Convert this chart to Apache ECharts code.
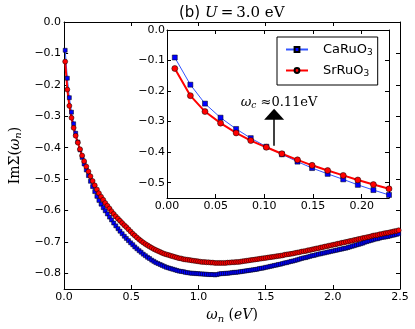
<!DOCTYPE html>
<html>
<head>
<meta charset="utf-8">
<script src="https://cdn.jsdelivr.net/npm/echarts@6/dist/echarts.min.js"></script>
<style>
html, body { margin: 0; padding: 0; background: #fff; }
#main { width: 415px; height: 329px; }
</style>
</head>
<body>
<div id="main"></div>
<script>
// Matsubara frequencies (eV), beta ~ 400 eV^-1
const omegaN = [
  0.008, 0.024, 0.039, 0.055, 0.071, 0.086, 0.102, 0.118, 0.134, 0.149,
  0.165, 0.181, 0.196, 0.212, 0.228, 0.244, 0.259, 0.275, 0.291, 0.306,
  0.322, 0.338, 0.353, 0.369, 0.385, 0.401, 0.416, 0.432, 0.448, 0.463,
  0.479, 0.495, 0.511, 0.526, 0.542, 0.558, 0.573, 0.589, 0.605, 0.621,
  0.636, 0.652, 0.668, 0.683, 0.699, 0.715, 0.730, 0.746, 0.762, 0.778,
  0.793, 0.809, 0.825, 0.840, 0.856, 0.872, 0.888, 0.903, 0.919, 0.935,
  0.950, 0.966, 0.982, 0.997, 1.013, 1.029, 1.045, 1.060, 1.076, 1.092,
  1.107, 1.123, 1.139, 1.155, 1.170, 1.186, 1.202, 1.217, 1.233, 1.249,
  1.265, 1.280, 1.296, 1.312, 1.327, 1.343, 1.359, 1.374, 1.390, 1.406,
  1.422, 1.437, 1.453, 1.469, 1.484, 1.500, 1.516, 1.532, 1.547, 1.563,
  1.579, 1.594, 1.610, 1.626, 1.642, 1.657, 1.673, 1.689, 1.704, 1.720,
  1.736, 1.751, 1.767, 1.783, 1.799, 1.814, 1.830, 1.846, 1.861, 1.877,
  1.893, 1.909, 1.924, 1.940, 1.956, 1.971, 1.987, 2.003, 2.019, 2.034,
  2.050, 2.066, 2.081, 2.097, 2.113, 2.128, 2.144, 2.160, 2.176, 2.191,
  2.207, 2.223, 2.238, 2.254, 2.270, 2.286, 2.301, 2.317, 2.333, 2.348,
  2.364, 2.380, 2.395, 2.411, 2.427, 2.443, 2.458, 2.474, 2.490
]

// Im Sigma(i w_n)
const caRuO3 = [
  -0.090, -0.179, -0.241, -0.287, -0.324, -0.354, -0.382, -0.407, -0.431, -0.452,
  -0.471, -0.489, -0.507, -0.524, -0.540, -0.555, -0.568, -0.580, -0.591, -0.601,
  -0.611, -0.621, -0.630, -0.640, -0.649, -0.658, -0.666, -0.674, -0.682, -0.689,
  -0.696, -0.703, -0.709, -0.716, -0.722, -0.728, -0.733, -0.739, -0.744, -0.749,
  -0.753, -0.758, -0.762, -0.766, -0.769, -0.772, -0.775, -0.778, -0.781, -0.783,
  -0.785, -0.787, -0.789, -0.791, -0.793, -0.794, -0.795, -0.797, -0.798, -0.799,
  -0.800, -0.800, -0.801, -0.801, -0.802, -0.802, -0.803, -0.803, -0.804, -0.804,
  -0.804, -0.805, -0.804, -0.802, -0.801, -0.801, -0.800, -0.800, -0.799, -0.798,
  -0.797, -0.797, -0.796, -0.795, -0.794, -0.793, -0.792, -0.791, -0.790, -0.789,
  -0.788, -0.787, -0.785, -0.784, -0.783, -0.781, -0.780, -0.778, -0.777, -0.775,
  -0.774, -0.772, -0.771, -0.769, -0.767, -0.766, -0.764, -0.762, -0.761, -0.759,
  -0.757, -0.755, -0.753, -0.751, -0.750, -0.748, -0.746, -0.744, -0.743, -0.741,
  -0.739, -0.738, -0.736, -0.735, -0.733, -0.732, -0.730, -0.729, -0.727, -0.726,
  -0.724, -0.723, -0.721, -0.720, -0.718, -0.716, -0.714, -0.712, -0.710, -0.708,
  -0.706, -0.704, -0.701, -0.699, -0.697, -0.695, -0.693, -0.691, -0.690, -0.688,
  -0.686, -0.685, -0.684, -0.683, -0.681, -0.679, -0.678, -0.676, -0.674
]
const srRuO3 = [
  -0.126, -0.215, -0.267, -0.305, -0.337, -0.362, -0.384, -0.405, -0.425, -0.443,
  -0.460, -0.476, -0.491, -0.506, -0.520, -0.533, -0.545, -0.556, -0.566, -0.576,
  -0.585, -0.594, -0.603, -0.611, -0.619, -0.626, -0.633, -0.640, -0.647, -0.653,
  -0.660, -0.667, -0.674, -0.680, -0.686, -0.692, -0.697, -0.702, -0.707, -0.711,
  -0.715, -0.719, -0.723, -0.726, -0.729, -0.732, -0.735, -0.738, -0.740, -0.742,
  -0.744, -0.746, -0.748, -0.750, -0.752, -0.753, -0.755, -0.756, -0.757, -0.758,
  -0.759, -0.760, -0.761, -0.762, -0.763, -0.764, -0.764, -0.765, -0.765, -0.766,
  -0.766, -0.767, -0.767, -0.767, -0.767, -0.767, -0.767, -0.766, -0.766, -0.765,
  -0.765, -0.764, -0.764, -0.763, -0.762, -0.761, -0.760, -0.759, -0.758, -0.757,
  -0.756, -0.755, -0.754, -0.753, -0.752, -0.751, -0.750, -0.749, -0.748, -0.747,
  -0.746, -0.745, -0.744, -0.743, -0.741, -0.740, -0.739, -0.738, -0.737, -0.735,
  -0.734, -0.733, -0.731, -0.730, -0.729, -0.727, -0.726, -0.724, -0.723, -0.721,
  -0.720, -0.718, -0.717, -0.715, -0.714, -0.712, -0.711, -0.709, -0.708, -0.706,
  -0.705, -0.703, -0.702, -0.700, -0.699, -0.697, -0.696, -0.694, -0.693, -0.691,
  -0.690, -0.688, -0.687, -0.685, -0.684, -0.682, -0.680, -0.679, -0.678, -0.676,
  -0.675, -0.673, -0.672, -0.671, -0.669, -0.668, -0.666, -0.665, -0.663
]

const mainXTicks = [0, 0.5, 1.0, 1.5, 2.0, 2.5]
const mainYTicks = [0, -0.1, -0.2, -0.3, -0.4, -0.5, -0.6, -0.7, -0.8]
const insetXTicks = [0, 0.05, 0.10, 0.15, 0.20]
const insetYTicks = [0, -0.1, -0.2, -0.3, -0.4, -0.5]
const insetCount = 15 // points shown in the inset
const omegaC = 0.11

const fmt = digits => v => (v < -1e-9 ? '\u2212' : '') + Math.abs(v).toFixed(digits)

const serif = 'DejaVu Serif'
const sans = 'DejaVu Sans'
const mathRich = {
  t: { fontFamily: serif, fontSize: 14, color: '#000' },
  i: { fontFamily: serif, fontStyle: 'italic', fontSize: 14, color: '#000' },
  s: { fontFamily: serif, fontStyle: 'italic', fontSize: 10, color: '#000', padding: [7, 0, 0, 0] }
}

/** common matplotlib-like axis */
function makeAxis(gridIndex, position, min, max, ticks, digits, showLabel) {
  return {
    type: 'value',
    gridIndex,
    position,
    min,
    max,
    splitLine: { show: false },
    axisLine: { show: true, onZero: false, lineStyle: { color: '#000', width: 1 } },
    axisTick: {
      show: true,
      inside: true,
      length: 4,
      customValues: ticks,
      lineStyle: { color: '#000', width: 1 }
    },
    axisLabel: {
      show: showLabel,
      customValues: ticks,
      formatter: fmt(digits),
      margin: 3,
      color: '#000',
      fontFamily: sans,
      fontSize: 11
    }
  }
}

const chart = echarts.init(document.getElementById('main'), null, { renderer: 'canvas' })

const xMain = makeAxis(0, 'bottom', 0, 2.5, mainXTicks, 1, true)
xMain.name = '{i|ω}{s|n}{t| (}{i|eV}{t|)}'
xMain.nameLocation = 'middle'
xMain.nameGap = 18
xMain.nameTextStyle = { rich: mathRich }

const yMain = makeAxis(0, 'left', -0.85, 0, mainYTicks, 1, true)
yMain.name = '{t|ImΣ(}{i|ω}{s|n}{t|)}'
yMain.nameLocation = 'middle'
yMain.nameRotate = 90
yMain.nameGap = 39
yMain.nameTextStyle = { rich: mathRich }

const xInset = makeAxis(1, 'bottom', 0, 0.228, insetXTicks, 2, true)
xInset.axisLabel.margin = 3
const yInset = makeAxis(1, 'left', -0.55, 0, insetYTicks, 1, true)
yInset.axisLabel.margin = 2

const option = {
  animation: false,
  backgroundColor: '#fff',
  title: {
    text: '{a|(b) }{u|U}{b|\u2009=\u20093.0 eV}',
    left: 174,
    top: 1,
    textStyle: {
      fontWeight: 'normal',
      rich: {
        a: { fontFamily: sans, fontSize: 15, fontWeight: 'normal', color: '#000' },
        u: { fontFamily: serif, fontStyle: 'italic', fontSize: 15, fontWeight: 'normal', color: '#000' },
        b: { fontFamily: serif, fontSize: 15, fontWeight: 'normal', color: '#000' }
      }
    }
  },
  legend: {
    orient: 'vertical',
    left: 277,
    top: 37,
    padding: [6, 5, 7, 8],
    itemWidth: 22,
    itemHeight: 6,
    itemGap: 7,
    borderColor: '#000',
    borderWidth: 1,
    borderRadius: 0,
    backgroundColor: '#fff',
    formatter: name => name.replace('O3', 'O{sub|3}'),
    textStyle: {
      fontFamily: sans,
      fontSize: 13,
      color: '#000',
      padding: [0, 0, 0, 10],
      rich: {
        sub: { fontFamily: sans, fontSize: 9, color: '#000', padding: [6, 0, 0, 0] }
      }
    },
    data: ['CaRuO3', 'SrRuO3']
  },
  grid: [
    { left: 55, top: 22, width: 345, height: 267 },
    { left: 167, top: 30, width: 222, height: 168 }
  ],
  xAxis: [
    xMain,
    makeAxis(0, 'top', 0, 2.5, mainXTicks, 1, false),
    xInset,
    makeAxis(1, 'top', 0, 0.228, insetXTicks, 2, false)
  ],
  yAxis: [
    yMain,
    makeAxis(0, 'right', -0.85, 0, mainYTicks, 1, false),
    yInset,
    makeAxis(1, 'right', -0.55, 0, insetYTicks, 1, false)
  ],
  series: [
    {
      name: 'CaRuO3',
      type: 'line',
      xAxisIndex: 0,
      yAxisIndex: 0,
      data: omegaN.map((w, i) => [w, caRuO3[i]]),
      showAllSymbol: true,
      symbol: 'rect',
      symbolSize: 4,
      lineStyle: { color: '#3355ff', width: 1 },
      itemStyle: { color: '#0000ff', borderColor: '#000', borderWidth: 0.5 }
    },
    {
      name: 'SrRuO3',
      type: 'line',
      xAxisIndex: 0,
      yAxisIndex: 0,
      data: omegaN.map((w, i) => [w, srRuO3[i]]),
      showAllSymbol: true,
      symbol: 'circle',
      symbolSize: 5,
      lineStyle: { color: '#ff0000', width: 2 },
      itemStyle: { color: '#ff0000', borderColor: '#000', borderWidth: 0.5 }
    },
    {
      name: 'CaRuO3',
      type: 'line',
      xAxisIndex: 2,
      yAxisIndex: 2,
      data: omegaN.slice(0, insetCount).map((w, i) => [w, caRuO3[i]]),
      showAllSymbol: true,
      symbol: 'rect',
      symbolSize: 5,
      lineStyle: { color: '#3355ff', width: 1 },
      itemStyle: { color: '#0000ff', borderColor: '#000', borderWidth: 0.5 }
    },
    {
      name: 'SrRuO3',
      type: 'line',
      xAxisIndex: 2,
      yAxisIndex: 2,
      data: omegaN.slice(0, insetCount).map((w, i) => [w, srRuO3[i]]),
      showAllSymbol: true,
      symbol: 'circle',
      symbolSize: 6,
      lineStyle: { color: '#ff0000', width: 2 },
      itemStyle: { color: '#ff0000', borderColor: '#000', borderWidth: 0.5 },
      markLine: {
        silent: true,
        animation: false,
        lineStyle: { color: '#000', width: 1.5, type: 'solid' },
        label: {
          show: true,
          position: 'end',
          distance: 4,
          padding: [0, 0, 0, 10],
          formatter: '{i|ω}{s|c}{t| ≈0.11eV}',
          rich: {
            t: { fontFamily: serif, fontSize: 13, color: '#000' },
            i: { fontFamily: serif, fontStyle: 'italic', fontSize: 13, color: '#000' },
            s: { fontFamily: serif, fontStyle: 'italic', fontSize: 9, color: '#000', padding: [6, 0, 0, 0] }
          }
        },
        data: [[
          { coord: [omegaC, -0.379], symbol: 'none' },
          { coord: [omegaC, -0.276], symbol: 'triangle', symbolSize: [20, 11], itemStyle: { color: '#000' } }
        ]]
      }
    }
  ]
}

chart.setOption(option)
</script>
</body>
</html>
